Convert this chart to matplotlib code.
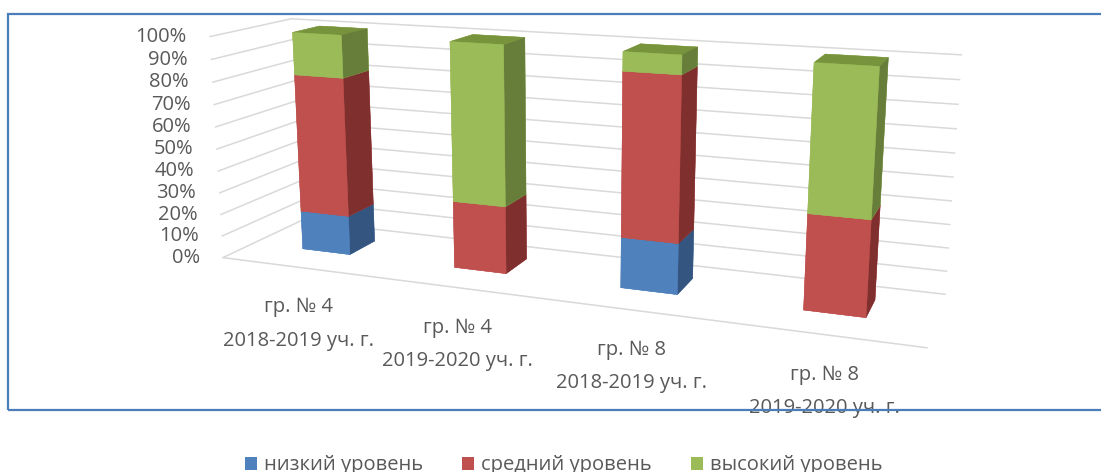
import numpy as np
import matplotlib
matplotlib.use("Agg")
import matplotlib.pyplot as plt
from matplotlib.patches import Patch, Rectangle
from matplotlib.transforms import offset_copy

plt.rcParams['font.family'] = ['Open Sans', 'DejaVu Sans']

categories = ["гр. № 4\n2018-2019 уч. г.", "гр. № 4\n2019-2020 уч. г.",
              "гр. № 8\n2018-2019 уч. г.", "гр. № 8\n2019-2020 уч. г."]
low = [18, 0, 22, 0]
mid = [63, 30, 70, 40]
high = [19, 70, 8, 60]
series_names = ["низкий уровень", "средний уровень", "высокий уровень"]
percent_ticks = list(range(0, 101, 10))

# front / side / top shade for every series
palette = [("#4F81BD", "#34557F", "#3E6797"),
           ("#C0504D", "#7F2F2E", "#9C3F3C"),
           ("#9BBB59", "#677D3A", "#77933C")]
text_color = "#595959"
grid_color = "#D9D9D9"
fsize = 14.5

fig = plt.figure(figsize=(11.01, 4.72), dpi=100)
ax = fig.add_axes([0.1626, -0.1708, 0.690, 1.609], projection="3d", computed_zorder=False)
ax.set_proj_type("persp", focal_length=0.33)
ax.view_init(elev=13.4, azim=-68.9, roll=0)
ax.set_box_aspect((4.76, 1, 1.54))
ax.set_xlim(0, len(categories))
ax.set_ylim(0, 1)
ax.set_zlim(0, 100)
ax.patch.set_alpha(0)

bar_w = 0.32
bar_d = 0.35
bar_y = 0.38
xs = np.arange(len(categories)) + 0.5 - bar_w / 2
bottom = np.zeros(len(categories))
for vals, (front, side, top) in zip([low, mid, high], palette):
    vals = np.array(vals, dtype=float)
    keep = vals > 0
    n = int(keep.sum())
    # bar3d face order: -z, +z, -y, +y, -x, +x
    faces = [front, top, front, front, front, side] * n
    ax.bar3d(xs[keep], np.full(n, bar_y), bottom[keep], bar_w, bar_d, vals[keep],
             color=faces, edgecolor=faces, linewidth=0.3, shade=False)
    bottom += vals

for axis in (ax.xaxis, ax.yaxis, ax.zaxis):
    axis.set_pane_color((1, 1, 1, 0))
    axis.pane.set_edgecolor((1, 1, 1, 0))
    axis.line.set_color((1, 1, 1, 0))
    axis.label.set_visible(False)
    axis.offsetText.set_visible(False)
    axis._axinfo["grid"].update(color=grid_color, linewidth=1.1)
    axis._axinfo["tick"].update(inward_factor=0, outward_factor=0)
ax.set_xticks([])
ax.set_yticks([])
ax.set_zticks(percent_ticks)
ax.zaxis.set_tick_params(labelleft=False, labelright=False)

# category axis line along the front of the floor
ax.plot([0, len(categories)], [0, 0], [0, 0], color=grid_color, lw=1.1, zorder=0.5)

tick_off = offset_copy(ax.transData, fig=fig, x=-23, y=0, units="dots")
for t in percent_ticks:
    ax.text(0, 0, t, f"{t}%", transform=tick_off, ha="right", va="center",
            fontsize=fsize, color=text_color)

lab_off = offset_copy(ax.transData, fig=fig, x=2, y=-57, units="dots")
for i, lab in enumerate(categories):
    ax.text(i + 0.5, 0, 0, lab, transform=lab_off, ha="center", va="center",
            fontsize=fsize, color=text_color, linespacing=1.9)

fig.add_artist(Rectangle((8 / 1101, 62 / 472), 1.0, 396 / 472, transform=fig.transFigure,
                         fill=False, ec="#4A7EBB", lw=1.6))

handles = [Patch(facecolor=p[0]) for p in palette]
fig.legend(handles, series_names, loc="center", bbox_to_anchor=(0.512, 0.014), ncol=3,
           frameon=False, fontsize=fsize, handlelength=0.6, handleheight=0.6,
           handletextpad=0.35, columnspacing=1.94, labelcolor=text_color)

fig.savefig("out.png", dpi=100)
